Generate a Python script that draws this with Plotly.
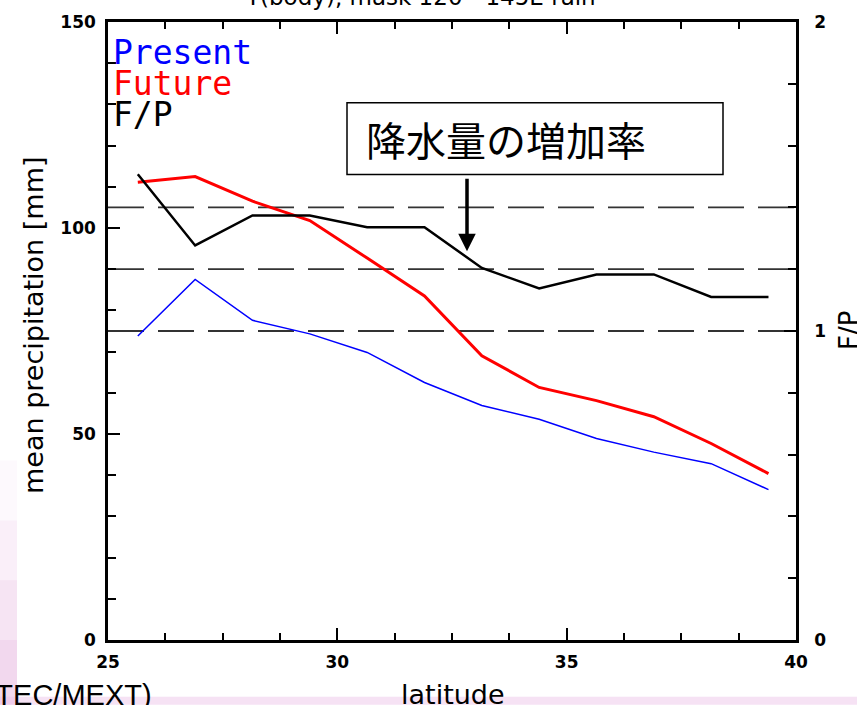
import plotly.graph_objects as go

# ---------------- data ----------------
lat = [25.65, 26.9, 28.15, 29.4, 30.65, 31.9, 33.15, 34.4, 35.65, 36.9, 38.15, 39.4]
present = [73.8, 87.5, 77.6, 74.3, 69.8, 62.5, 56.9, 53.6, 48.9, 45.6, 42.8, 36.5]
future = [111.1, 112.5, 106.5, 101.8, 92.7, 83.5, 69.0, 61.3, 58.1, 54.2, 47.7, 40.4]
ratio = [1.507, 1.277, 1.374, 1.374, 1.336, 1.336, 1.204, 1.138, 1.183, 1.183, 1.110, 1.110]
ref_levels = [1.0, 1.2, 1.4]
x_ticks = [25, 30, 35, 40]
y_ticks = [0, 50, 100, 150]
y2_ticks = [0, 1, 2]
series_names = ["Present", "Future", "F/P"]
title_text = "T(body), mask 120 - 145E rain"
callout_text = "降水量の増加率"
credit_text = "JAMSTEC/MEXT)"

# ---------------- geometry helpers ----------------
W, H = 857, 705
ML, MR, MT, MB = 108, 61, 20, 65
PW, PH = W - ML - MR, H - MT - MB


def px(x):
    return (x - ML) / PW


def py(y):
    return (H - MB - y) / PH


fig = go.Figure()
fig.add_trace(go.Scatter(x=lat, y=present, mode="lines", line=dict(color="#0000ff", width=1.5),
                         name=series_names[0], yaxis="y"))
fig.add_trace(go.Scatter(x=lat, y=future, mode="lines", line=dict(color="#ff0000", width=3),
                         name=series_names[1], yaxis="y"))
fig.add_trace(go.Scatter(x=lat, y=ratio, mode="lines", line=dict(color="#000000", width=2.5),
                         name=series_names[2], yaxis="y2"))

tickfont = dict(family="DejaVu Sans", size=17, color="black", weight="bold")

fig.update_layout(
    width=W, height=H,
    margin=dict(l=ML, r=MR, t=MT, b=MB),
    paper_bgcolor="white", plot_bgcolor="white",
    showlegend=False,
    xaxis=dict(range=[25, 40], tickvals=x_ticks, ticks="inside", ticklen=12, tickwidth=2,
               tickcolor="black", showline=True, linecolor="black", linewidth=2.5,
               mirror="ticks", showgrid=False, zeroline=False, tickfont=tickfont,
               ticklabelstandoff=5,
               minor=dict(dtick=1.25, tick0=25, ticks="inside", ticklen=7, tickwidth=1.5,
                          tickcolor="black", showgrid=False)),
    yaxis=dict(range=[0, 150], tickvals=y_ticks, ticks="inside", ticklen=12, tickwidth=2,
               tickcolor="black", showline=True, linecolor="black", linewidth=2.5,
               showgrid=False, zeroline=False, tickfont=tickfont, ticklabelstandoff=6,
               minor=dict(dtick=10, tick0=0, ticks="inside", ticklen=8, tickwidth=1.5,
                          tickcolor="black", showgrid=False)),
    yaxis2=dict(range=[0, 2], tickvals=y2_ticks, overlaying="y", side="right", ticks="inside",
                ticklen=12, tickwidth=2, tickcolor="black", showline=True, linecolor="black",
                linewidth=2.5, showgrid=False, zeroline=False, tickfont=tickfont,
                ticklabelstandoff=12,
                minor=dict(dtick=0.2, tick0=0, ticks="inside", ticklen=8, tickwidth=1.5,
                           tickcolor="black", showgrid=False)),
)

shapes = []
# pink decoration (slide background)
for y0, a in [(460, 0.06), (520, 0.10), (580, 0.14), (640, 0.18)]:
    shapes.append(dict(type="rect", xref="paper", yref="paper", x0=px(0), x1=px(17),
                       y0=py(H), y1=py(y0), fillcolor=f"rgba(225,160,215,{a})",
                       line=dict(width=0), layer="below"))
shapes.append(dict(type="rect", xref="paper", yref="paper", x0=px(0), x1=px(W),
                   y0=py(H), y1=py(697), fillcolor="rgba(235,190,230,0.45)",
                   line=dict(width=0), layer="below"))
# reference dashed lines
for lv in ref_levels:
    shapes.append(dict(type="line", xref="paper", yref="y2", x0=0, x1=1, y0=lv, y1=lv,
                       line=dict(color="#333333", width=1.8, dash="36px,14px"), layer="below"))
# callout box
shapes.append(dict(type="rect", xref="paper", yref="paper", x0=px(347), x1=px(723),
                   y0=py(173), y1=py(101), fillcolor="white",
                   line=dict(color="black", width=1.5), layer="above"))
fig.update_layout(shapes=shapes)

mono = "DejaVu Sans Mono"
ann = []
legend_cols = ["#0000ff", "#ff0000", "#000000"]
legend_y = [51, 82, 113]
for name, c, yy in zip(series_names, legend_cols, legend_y):
    ann.append(dict(text=name, xref="paper", yref="paper", x=px(111), y=py(yy),
                    xanchor="left", yanchor="middle", showarrow=False,
                    font=dict(family=mono, size=33, color=c)))
# title (cut off at the top)
ann.append(dict(text=title_text, xref="paper", yref="paper", x=px(420), y=py(10),
                xanchor="center", yanchor="bottom", showarrow=False,
                font=dict(family="DejaVu Sans", size=23, color="black")))
# axis titles
ann.append(dict(text="mean precipitation [mm]", xref="paper", yref="paper", x=px(33), y=py(324),
                xanchor="center", yanchor="middle", textangle=-90, showarrow=False,
                font=dict(family="DejaVu Sans", size=27, color="black")))
ann.append(dict(text="latitude", xref="paper", yref="paper", x=px(453), y=py(695),
                xanchor="center", yanchor="middle", showarrow=False,
                font=dict(family="DejaVu Sans", size=27, color="black")))
ann.append(dict(text="F/P", xref="paper", yref="paper", x=px(849), y=py(330),
                xanchor="center", yanchor="middle", textangle=-90, showarrow=False,
                font=dict(family="DejaVu Sans", size=26, color="black")))
# credit at bottom-left
ann.append(dict(text=credit_text, xref="paper", yref="paper", x=px(154), y=py(695),
                xanchor="right", yanchor="middle", showarrow=False,
                font=dict(family="Liberation Sans", size=29, color="black")))
# callout text
ann.append(dict(text=callout_text, xref="paper", yref="paper", x=px(364), y=py(137),
                xanchor="left", yanchor="middle", showarrow=False,
                font=dict(family="Noto Sans CJK JP", size=40, color="black")))
# arrow
ann.append(dict(text="", xref="paper", yref="paper", x=px(467), y=py(250),
                ax=0, ay=-74, showarrow=True, arrowhead=2, arrowsize=1, arrowwidth=3.5,
                arrowcolor="black"))
fig.update_layout(annotations=ann)

fig.write_html("out.html")
